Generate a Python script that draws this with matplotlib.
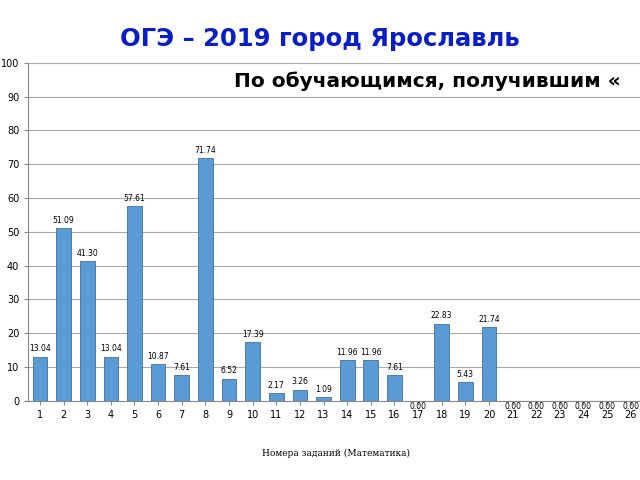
import matplotlib
matplotlib.use("Agg")
import matplotlib.pyplot as plt

tasks = [str(i) for i in range(1, 27)]
values = [13.04, 51.09, 41.30, 13.04, 57.61, 10.87, 7.61, 71.74, 6.52, 17.39,
          2.17, 3.26, 1.09, 11.96, 11.96, 7.61, 0.00, 22.83, 5.43, 21.74,
          0.00, 0.00, 0.00, 0.00, 0.00, 0.00]

fig = plt.figure(figsize=(6.4, 4.8), dpi=100)
ax = fig.add_axes([0.044, 0.165, 0.96, 0.704])

x = list(range(1, len(tasks) + 1))
ax.bar(x, values, width=0.62, color="#5B9BD5", edgecolor="#41719C", linewidth=0.6, zorder=3)
for xi, v in zip(x, values):
    if v == 0:
        ax.text(xi, -0.5, f"{v:.2f}", ha="center", va="top", fontsize=5.5, zorder=4)
    else:
        ax.text(xi, v + 1, f"{v:.2f}", ha="center", va="bottom", fontsize=5.5)

ax.set_xlim(0.5, 26.5)
ax.set_ylim(0, 100)
ax.set_yticks(range(0, 101, 10))
ax.set_xticks(x)
ax.set_xticklabels(tasks)
ax.tick_params(axis="both", labelsize=7, length=3, color="#888888")
ax.yaxis.grid(True, color="#AAAAAA", linewidth=0.8, zorder=0)
for s in ["top", "right"]:
    ax.spines[s].set_visible(False)
ax.spines["left"].set_color("#888888")
ax.spines["bottom"].set_color("#888888")

fig.text(0.5, 0.905, "ОГЭ – 2019 город Ярославль", ha="center", fontsize=17.5,
         fontweight="bold", color="#0A1EC8")
fig.text(0.365, 0.818, "По обучающимся, получившим «", ha="left", fontsize=14.5,
         fontweight="bold", color="black")
fig.text(0.525, 0.05, "Номера заданий (Математика)", ha="center", fontsize=6.5,
         family="DejaVu Serif")

fig.savefig("out.png", dpi=100)
